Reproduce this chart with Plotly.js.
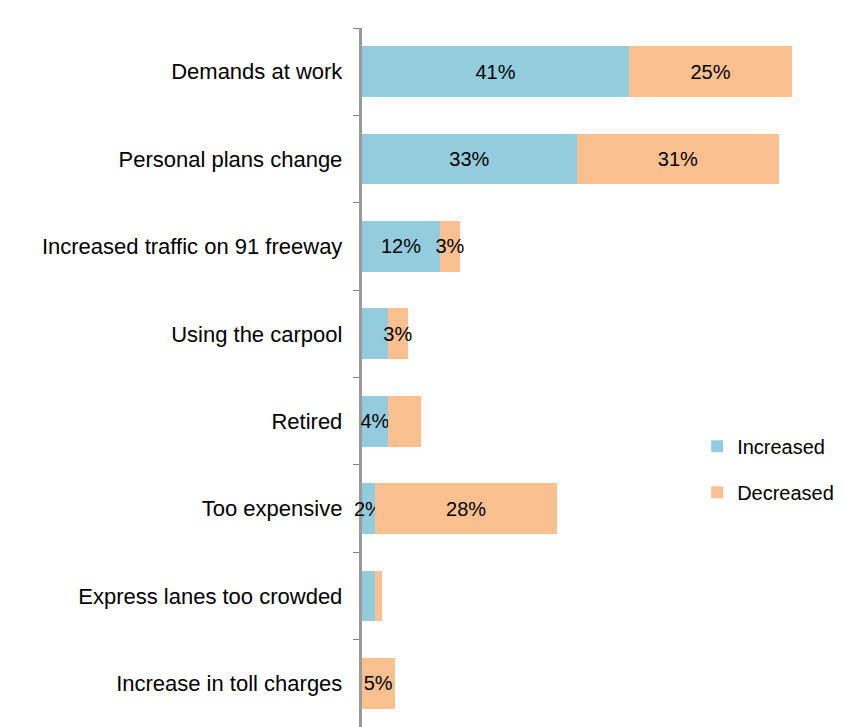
<!DOCTYPE html>
<html><head><meta charset="utf-8">
<script src="https://cdn.plot.ly/plotly-3.0.1.min.js"></script>
<style>html,body{margin:0;padding:0;background:#fff}</style>
</head><body>
<div id="chart" style="width:844px;height:727px"></div>
<script>
const categories = ["Demands at work","Personal plans change","Increased traffic on 91 freeway","Using the carpool","Retired","Too expensive","Express lanes too crowded","Increase in toll charges"];
const increased = [41, 33, 12, 4, 4, 2, 2, 0];
const decreased = [25, 31, 3, 3, 5, 28, 1, 5];
const increasedLabels = ["41%","33%","12%","","4%","2%","",""];
const decreasedLabels = ["25%","31%","3%","3%","","28%","","5%"];

const fam = "Liberation Sans, Arial, sans-serif";
const labelFont = {family: fam, size: 20, color: "#000"};

const traces = [
  {type:"bar", orientation:"h", name:"Increased", y:categories, x:increased,
   text:increasedLabels, textposition:"inside", insidetextanchor:"middle", constraintext:"none", textangle:0,
   cliponaxis:false, textfont:labelFont, marker:{color:"#93CDDD", line:{width:0}}, legendgroup:"a"},
  {type:"bar", orientation:"h", name:"Decreased", y:categories, x:decreased,
   text:decreasedLabels, textposition:"inside", insidetextanchor:"middle", constraintext:"none", textangle:0,
   cliponaxis:false, textfont:labelFont, marker:{color:"#FAC090", line:{width:0}}, legendgroup:"b"}
];

const layout = {
  width:844, height:727,
  margin:{l:362, r:26, t:28, b:0, autoexpand:false},
  paper_bgcolor:"#fff", plot_bgcolor:"#fff",
  barmode:"stack", bargap:0.42,
  font:{family:fam, size:20, color:"#000"},
  xaxis:{range:[0,70], showgrid:false, zeroline:false, showticklabels:false, showline:false, ticks:""},
  yaxis:{autorange:"reversed", showgrid:false, zeroline:false, showline:true, linecolor:"#9a9a9a", linewidth:3,
         ticks:"outside", tickson:"boundaries", ticklen:6, tickcolor:"#7f7f7f", tickwidth:1, layer:"below traces",
         ticksuffix:"  ", tickfont:{family:fam, size:22, color:"#000"}},
  showlegend:true,
  legend:{xref:"container", yref:"container", x:0.826, y:0.413, xanchor:"left", yanchor:"top",
          traceorder:"grouped", tracegroupgap:17,
          font:{family:fam, size:20, color:"#000"}, bgcolor:"rgba(0,0,0,0)"}
};

Plotly.newPlot("chart", traces, layout, {displayModeBar:false, staticPlot:true});
</script>
</body></html>
